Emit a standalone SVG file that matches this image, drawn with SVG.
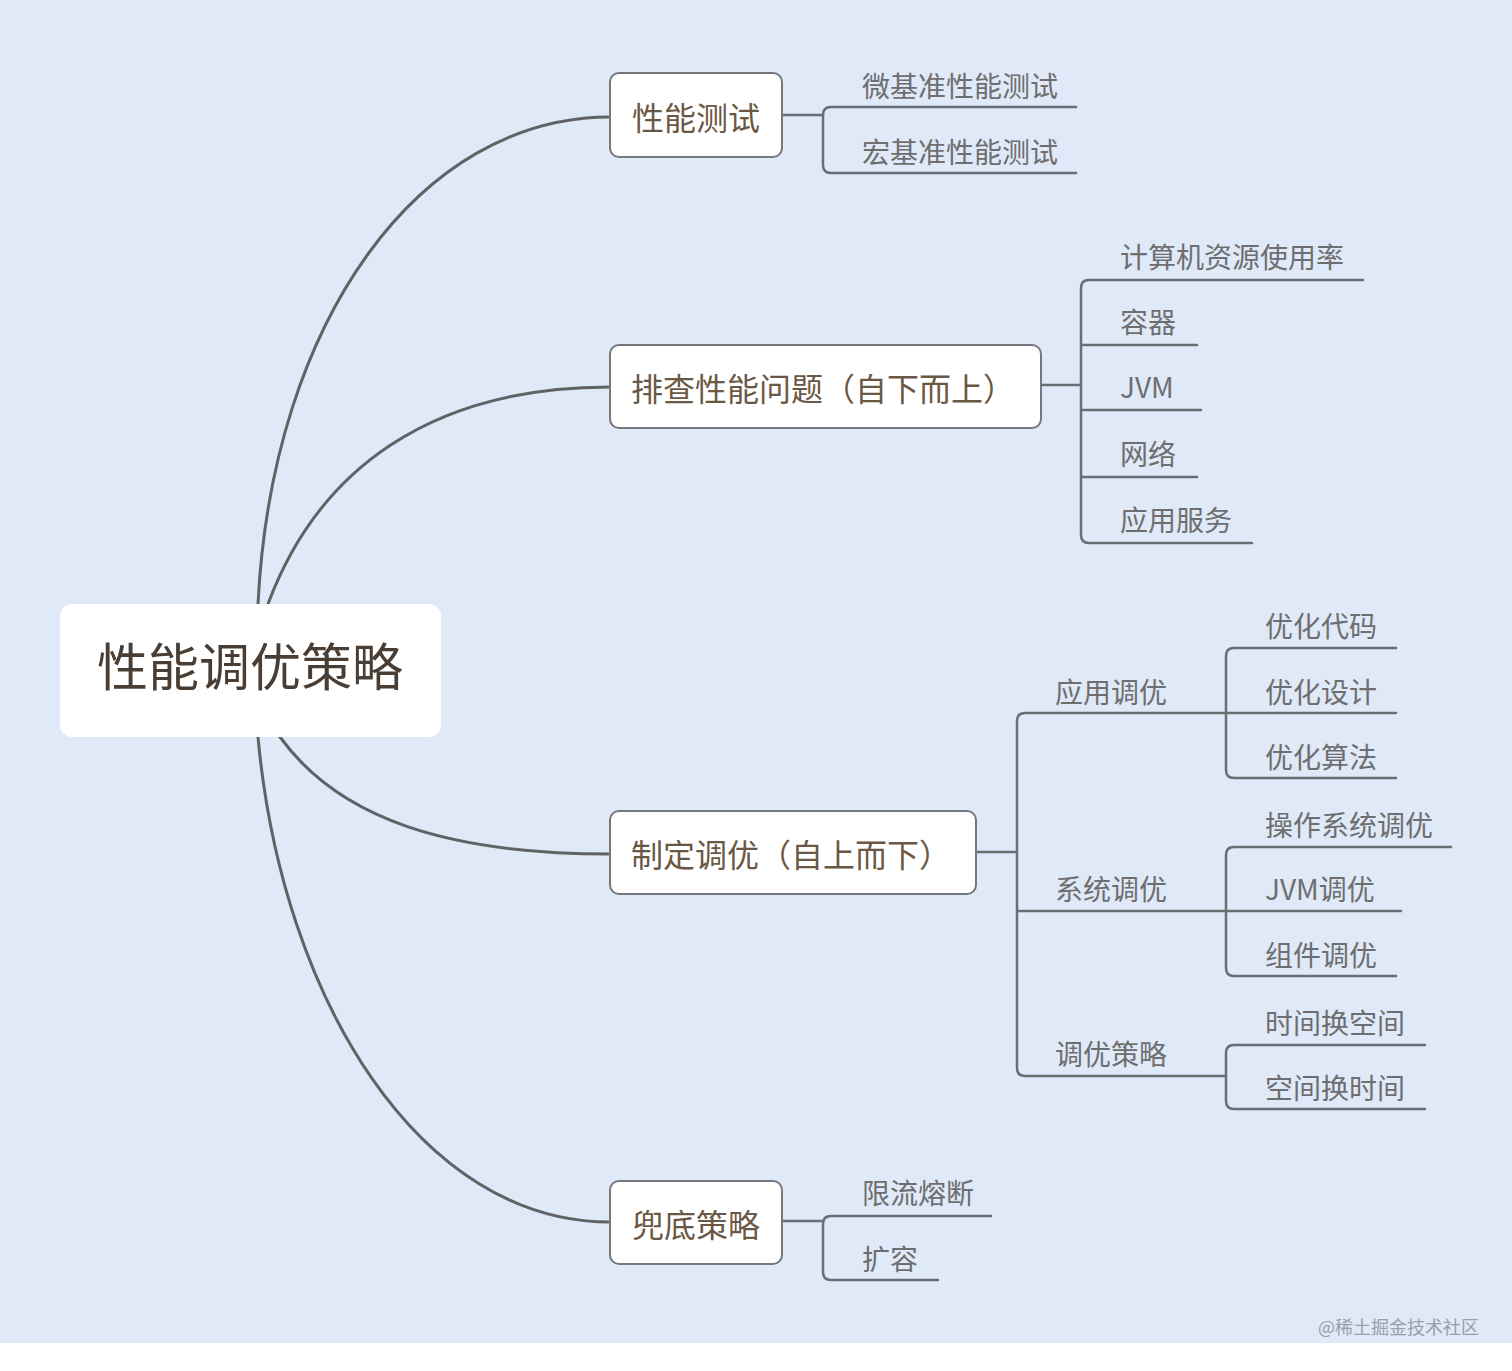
<svg xmlns="http://www.w3.org/2000/svg" width="1512" height="1371" viewBox="0 0 1512 1371">
<style>
.bg{fill:#dfe9f7}
.ln{fill:none;stroke:#606266;stroke-width:3;stroke-linecap:round;stroke-linejoin:round}
.sl{fill:none;stroke:#6a6d72;stroke-width:2.5;stroke-linecap:round;stroke-linejoin:round}
.box{fill:#ffffff;stroke:#75787c;stroke-width:2}
.root{fill:#ffffff}
.rt{font-family:"Noto Sans CJK SC","Noto Sans",sans-serif;font-size:51px;fill:#4a3e34}
.bt{font-family:"Noto Sans CJK SC","Noto Sans",sans-serif;font-size:32px;fill:#6b5844}
.ct{font-family:"Noto Sans CJK SC","Noto Sans",sans-serif;font-size:28px;fill:#6e6e70}
.wm{font-family:"Noto Sans CJK SC","Noto Sans",sans-serif;font-size:18px;fill:#9a9ea6}
</style>
<rect class="bg" x="0" y="0" width="1512" height="1343"/>
<rect x="0" y="1343" width="1512" height="28" fill="#ffffff"/>
<g id="connectors">
<path class="ln" d="M258,604 C272,320 420,117 610,117"/>
<path class="ln" d="M268,604 C318,470 430,387 610,387"/>
<path class="ln" d="M280,737 C340,820 450,854 610,854"/>
<path class="ln" d="M258,737 C282,1000 420,1222 610,1222"/>
<!-- branch 1 -->
<path class="sl" d="M782,115 H823"/>
<path class="sl" d="M1076,107 H831 Q823,107 823,115 V165 Q823,173 831,173 H1076"/>
<!-- branch 2 -->
<path class="sl" d="M1041,385 H1081"/>
<path class="sl" d="M1363,280 H1089 Q1081,280 1081,288 V535 Q1081,543 1089,543 H1252"/>
<path class="sl" d="M1081,345 H1197"/>
<path class="sl" d="M1081,410 H1201"/>
<path class="sl" d="M1081,477 H1197"/>
<!-- branch 3 -->
<path class="sl" d="M976,852 H1017"/>
<path class="sl" d="M1225,713 H1025 Q1017,713 1017,721 V1068 Q1017,1076 1025,1076 H1225"/>
<path class="sl" d="M1017,911 H1225"/>
<path class="sl" d="M1396,648 H1234 Q1226,648 1226,656 V770 Q1226,778 1234,778 H1396"/>
<path class="sl" d="M1226,713 H1396"/>
<path class="sl" d="M1451,847 H1234 Q1226,847 1226,855 V968 Q1226,976 1234,976 H1396"/>
<path class="sl" d="M1226,911 H1401"/>
<path class="sl" d="M1425,1045 H1234 Q1226,1045 1226,1053 V1101 Q1226,1109 1234,1109 H1425"/>
<!-- branch 4 -->
<path class="sl" d="M782,1221 H823"/>
<path class="sl" d="M991,1216 H831 Q823,1216 823,1224 V1272 Q823,1280 831,1280 H938"/>
</g>
<g id="root">
<rect class="root" x="60" y="604" width="381" height="133" rx="12"/>
<text class="rt" x="250" y="686" text-anchor="middle">性能调优策略</text>
</g>
<g id="b1">
<rect class="box" x="610" y="73" width="172" height="84" rx="9"/>
<text class="bt" x="696" y="130" text-anchor="middle">性能测试</text>
</g>
<g id="b2">
<rect class="box" x="610" y="345" width="431" height="83" rx="9"/>
<text class="bt" x="631" y="401">排查性能问题（自下而上）</text>
</g>
<g id="b3">
<rect class="box" x="610" y="811" width="366" height="83" rx="9"/>
<text class="bt" x="631" y="867">制定调优（自上而下）</text>
</g>
<g id="b4">
<rect class="box" x="610" y="1181" width="172" height="83" rx="9"/>
<text class="bt" x="696" y="1237" text-anchor="middle">兜底策略</text>
</g>
<g id="c1"><text class="ct" x="862" y="97">微基准性能测试</text></g>
<g id="c2"><text class="ct" x="862" y="163">宏基准性能测试</text></g>
<g id="c3"><text class="ct" x="1120" y="268">计算机资源使用率</text></g>
<g id="c4"><text class="ct" x="1120" y="333">容器</text></g>
<g id="c5"><text class="ct" x="1120" y="398">JVM</text></g>
<g id="c6"><text class="ct" x="1120" y="465">网络</text></g>
<g id="c7"><text class="ct" x="1120" y="531">应用服务</text></g>
<g id="c8"><text class="ct" x="1055" y="703">应用调优</text></g>
<g id="c9"><text class="ct" x="1055" y="900">系统调优</text></g>
<g id="c10"><text class="ct" x="1055" y="1065">调优策略</text></g>
<g id="c11"><text class="ct" x="1265" y="637">优化代码</text></g>
<g id="c12"><text class="ct" x="1265" y="703">优化设计</text></g>
<g id="c13"><text class="ct" x="1265" y="768">优化算法</text></g>
<g id="c14"><text class="ct" x="1265" y="836">操作系统调优</text></g>
<g id="c15"><text class="ct" x="1265" y="900">JVM调优</text></g>
<g id="c16"><text class="ct" x="1265" y="966">组件调优</text></g>
<g id="c17"><text class="ct" x="1265" y="1034">时间换空间</text></g>
<g id="c18"><text class="ct" x="1265" y="1099">空间换时间</text></g>
<g id="c19"><text class="ct" x="862" y="1204">限流熔断</text></g>
<g id="c20"><text class="ct" x="862" y="1270">扩容</text></g>
<text class="wm" x="1318" y="1334">@稀土掘金技术社区</text>
</svg>
